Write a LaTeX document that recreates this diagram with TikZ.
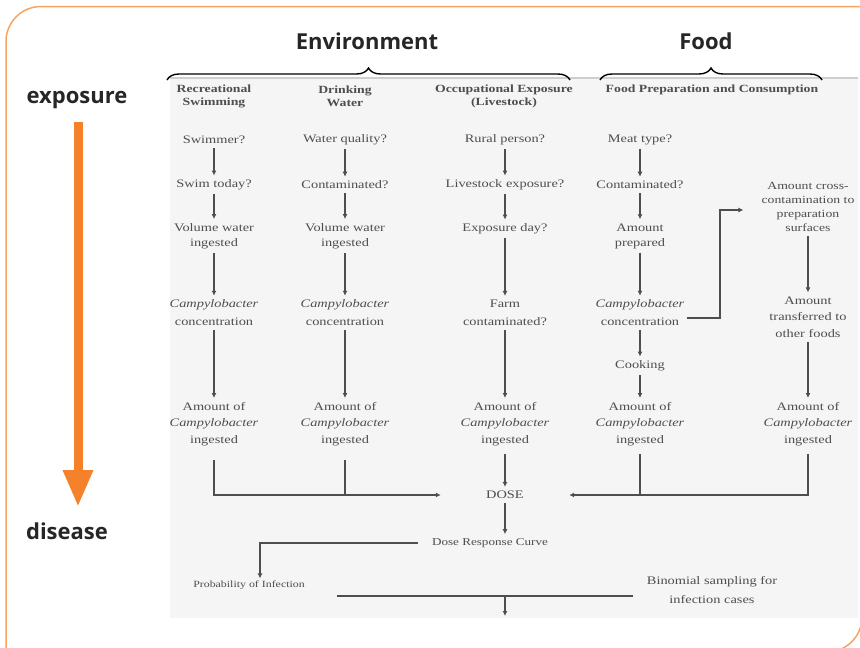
\documentclass[tikz,border=0pt]{standalone}
\usepackage{fontspec}
\setmainfont{Liberation Serif}[FakeStretch=1.25]
\newfontfamily\headfont{Open Sans}
\usetikzlibrary{arrows.meta,decorations.pathreplacing}
\definecolor{framecol}{HTML}{F9A361}
\definecolor{arrowor}{HTML}{F5822A}
\definecolor{scantxt}{HTML}{4E4E4E}
\definecolor{scanbg}{HTML}{F5F5F5}
\definecolor{scanedge}{HTML}{CFCFCF}
\begin{document}
\begin{tikzpicture}[x=1pt,y=-1pt,
  txt/.style={font=\fontsize{11.5}{15}\selectfont, text=scantxt, align=center, inner sep=2pt},
  hd/.style={font=\fontsize{11}{13}\selectfont\bfseries, text=scantxt, align=center, inner sep=2pt},
  flow/.style={draw=scantxt, line width=1.2pt, -{Latex[length=5pt,width=5pt]}, shorten >=2pt, shorten <=2pt},
  plain/.style={draw=scantxt, line width=1.2pt},
  big/.style={font=\headfont\bfseries\fontsize{22}{26}\selectfont, text=black!85, inner sep=0pt},
  brc/.style={decorate, decoration={brace, amplitude=12pt}, line width=1.4pt},
  orarrow/.style={draw=arrowor, line width=9pt, -{Triangle[length=37pt,width=28pt]}}]
\useasboundingbox (0,0) rectangle (860,648);
\clip (0,0) rectangle (860,648);
% frame
\draw[framecol, line width=1.5pt, rounded corners=35pt] (6,700) -- (6,6.5) -- (900,6.5);
\draw[framecol, line width=1.5pt, rounded corners=35pt] (780,652) -- (862,652) -- (862,560);
% scanned area
\fill[scanbg] (170,78) rectangle (858,618);
\draw[scanedge, line width=2pt] (170,78) -- (858,78);
% big labels
\node[big] (env) at (367,41) {Environment};
\node[big] (food) at (706,41) {Food};
\node[big] (expo) at (77,100) {exposure};
\node[big] (dis) at (67,531) {disease};
\coordinate (otop) at (78,122);
\coordinate (obot) at (78,507);
\draw[orarrow] (otop) -- (obot);
% braces
\draw[brc] (167,80) -- (570,80);
\draw[brc] (600,80) -- (822,80);
% headings
\node[hd] (h1) at (214,96) {Recreational\\Swimming};
\node[hd] (h2) at (345,96) {Drinking\\Water};
\node[hd] (h3) at (504,96) {Occupational Exposure\\(Livestock)};
\node[hd] (h4) at (712,90) {Food Preparation and Consumption};
% column 1
\node[txt] (a1) at (214,140) {Swimmer?};
\node[txt] (a2) at (214,185) {Swim today?};
\node[txt] (a3) at (214,236) {Volume water\\ingested};
\node[txt, font=\fontsize{11.5}{18}\selectfont] (a4) at (214,313) {\textit{Campylobacter}\\concentration};
\node[txt, font=\fontsize{11.5}{16.5}\selectfont] (a5) at (214,424) {Amount of\\\textit{Campylobacter}\\ingested};
% column 2
\node[txt] (b1) at (345,140) {Water quality?};
\node[txt] (b2) at (345,185) {Contaminated?};
\node[txt] (b3) at (345,236) {Volume water\\ingested};
\node[txt, font=\fontsize{11.5}{18}\selectfont] (b4) at (345,313) {\textit{Campylobacter}\\concentration};
\node[txt, font=\fontsize{11.5}{16.5}\selectfont] (b5) at (345,424) {Amount of\\\textit{Campylobacter}\\ingested};
% column 3
\node[txt] (c1) at (505,140) {Rural person?};
\node[txt] (c2) at (505,185) {Livestock exposure?};
\node[txt] (c3) at (505,229) {Exposure day?};
\node[txt, font=\fontsize{11.5}{18}\selectfont] (c4) at (505,313) {Farm\\contaminated?};
\node[txt, font=\fontsize{11.5}{16.5}\selectfont] (c5) at (505,424) {Amount of\\\textit{Campylobacter}\\ingested};
% column 4
\node[txt] (d1) at (640,140) {Meat type?};
\node[txt] (d2) at (640,185) {Contaminated?};
\node[txt] (d3) at (640,236) {Amount\\prepared};
\node[txt, font=\fontsize{11.5}{18}\selectfont] (d4) at (640,313) {\textit{Campylobacter}\\concentration};
\node[txt] (d5) at (640,366) {Cooking};
\node[txt, font=\fontsize{11.5}{16.5}\selectfont] (d6) at (640,424) {Amount of\\\textit{Campylobacter}\\ingested};
% column 5
\node[txt, font=\fontsize{11}{14}\selectfont] (e1) at (808,207) {Amount cross-\\contamination to\\preparation\\surfaces};
\node[txt, font=\fontsize{11.5}{16.5}\selectfont] (e2) at (808,317) {Amount\\transferred to\\other foods};
\node[txt, font=\fontsize{11.5}{16.5}\selectfont] (e3) at (808,424) {Amount of\\\textit{Campylobacter}\\ingested};
% bottom
\node[txt, minimum width=128pt] (dose) at (505,495) {DOSE};
\node[txt, font=\fontsize{10.5}{13}\selectfont] (drc) at (490,543) {Dose Response Curve};
\node[txt, font=\fontsize{9.5}{12}\selectfont] (prob) at (249,585) {Probability of Infection};
\node[txt, font=\fontsize{11.5}{19}\selectfont] (binom) at (712,590) {Binomial sampling for\\infection cases};
\coordinate (bend) at (720,210);
\coordinate (mid) at (505,596);
\coordinate (out) at (505,616);
\coordinate (pl) at (260,543);
% arrows
\draw[flow] (a1) -- (a2);
\draw[flow] (a2) -- (a3);
\draw[flow] (a3) -- (a4);
\draw[flow] (a4) -- (a5);
\draw[flow] (b1) -- (b2);
\draw[flow] (b2) -- (b3);
\draw[flow] (b3) -- (b4);
\draw[flow] (b4) -- (b5);
\draw[flow] (c1) -- (c2);
\draw[flow] (c2) -- (c3);
\draw[flow] (c3) -- (c4);
\draw[flow] (c4) -- (c5);
\draw[flow] (d1) -- (d2);
\draw[flow] (d2) -- (d3);
\draw[flow] (d3) -- (d4);
\draw[flow] (d4) -- (d5);
\draw[flow] (d5) -- (d6);
\draw[flow] (e1) -- (e2);
\draw[flow] (e2) -- (e3);
\draw[flow, shorten <=6pt] (c5.south) -- (c5.south |- dose.north);
\draw[flow] (dose.south) -- (dose.south |- drc.north);
% merges
\draw[plain, -{Latex[length=5pt,width=5pt]}, shorten <=12pt] (a5.south) |- (dose.west);
\draw[plain, shorten <=12pt] (b5.south) -- (b5.south |- dose.west);
\draw[plain, -{Latex[length=5pt,width=5pt]}, shorten <=6pt] (e3.south) |- (dose.east);
\draw[plain, shorten <=6pt] (d6.south) -- (d6.south |- dose.east);
% cross contamination
\draw[plain, -{Latex[length=5pt,width=5pt]}, shorten >=16pt] ([yshift=-5pt]d4.east) -| (bend) -- (e1.west |- bend);
% dose response
\draw[plain, -{Latex[length=5pt,width=5pt]}, shorten <=12pt] (drc.west) -- (pl) -- (prob.north -| pl);
\draw[plain, shorten <=30pt, shorten >=12pt] (prob.east |- mid) -- (binom.west |- mid);
\draw[plain, -{Latex[length=5pt,width=5pt]}] (mid) -- (out);
\end{tikzpicture}
\end{document}
